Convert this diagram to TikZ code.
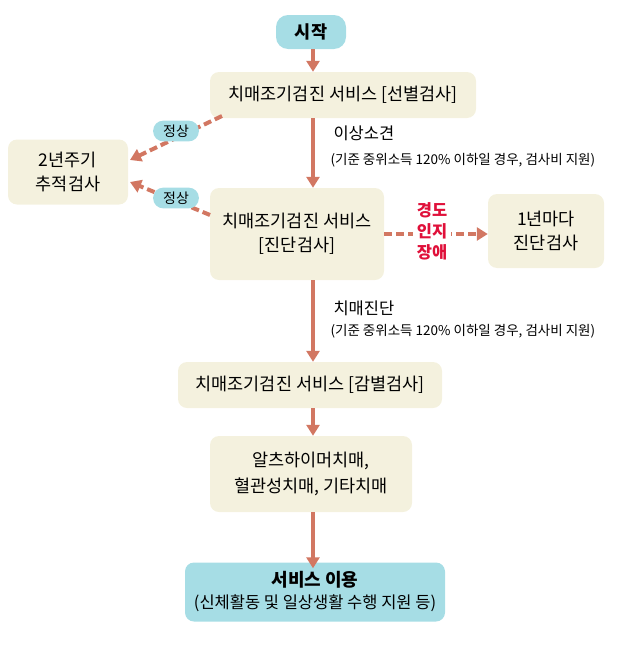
\documentclass[tikz,border=0pt]{standalone}
\usepackage{fontspec}
\setmainfont{Noto Sans CJK KR}
\usetikzlibrary{arrows.meta}
\definecolor{beige}{HTML}{F4F1DE}
\definecolor{cyanb}{HTML}{A6DDE5}
\definecolor{arr}{HTML}{D27762}
\definecolor{redt}{HTML}{E0103A}
\begin{document}
\begin{tikzpicture}[x=1pt,y=-1pt,
  box/.style={fill=beige,rounded corners=9pt,align=center,font=\fontsize{17.5}{24}\selectfont,inner sep=0pt},
  cbox/.style={box,fill=cyanb},
  pill/.style={fill=cyanb,rounded corners=10pt,font=\fontsize{14}{16}\selectfont,inner xsep=10pt,inner ysep=4pt},
  conn/.style={draw=arr,line width=4pt,-{Triangle[length=11pt,width=13pt]}},
  dconn/.style={conn,dash pattern=on 8pt off 4pt},
  lab/.style={font=\fontsize{16.5}{20}\selectfont,anchor=west,align=left}]
\useasboundingbox (0,0) rectangle (622,645);
\node[cbox,minimum width=70pt,minimum height=34pt,rounded corners=12pt,font=\fontsize{17.5}{20}\selectfont\bfseries] (start) at (311,32) {시작};
\node[box,minimum width=266pt,minimum height=46pt] (s1) at (343,95) {치매조기검진 서비스 [선별검사]};
\node[box,minimum width=120pt,minimum height=65pt] (s2) at (68,172) {2년주기\\추적검사};
\node[box,minimum width=174pt,minimum height=92pt] (s3) at (297,234) {치매조기검진 서비스\\{[}진단검사]};
\node[box,minimum width=116pt,minimum height=74pt] (s4) at (546,231) {1년마다\\진단검사};
\node[box,minimum width=264pt,minimum height=46pt] (s5) at (310,385) {치매조기검진 서비스 [감별검사]};
\node[box,minimum width=202pt,minimum height=76pt,font=\fontsize{17.5}{26}\selectfont] (s6) at (311,474) {알츠하이머치매,\\혈관성치매, 기타치매};
\node[cbox,minimum width=260pt,minimum height=59pt,font=\fontsize{16.5}{22}\selectfont] (s7) at (315,592) {\textbf{\fontsize{18}{22}\selectfont 서비스 이용}\\(신체활동 및 일상생활 수행 지원 등)};
\coordinate (a1) at (313,49);
\draw[conn] (start.south -| a1) -- (s1.north -| a1);
\draw[conn] (s1.south -| a1) -- (s3.north -| a1);
\draw[conn] (s3.south -| a1) -- (s5.north -| a1);
\draw[conn] (s5.south -| a1) -- (s6.north -| a1);
\draw[conn] (s6.south -| a1) -- ([yshift=-6pt]s7.north -| a1);
\coordinate (d1) at (222,116); \coordinate (e1) at (130,160);
\draw[dconn] (d1) -- (e1);
\coordinate (d2) at (210,215); \coordinate (e2) at (130,182);
\draw[dconn] (d2) -- (e2);
\draw[dconn] (s3.east) -- (s4.west |- s3.east);
\node[pill] (p1) at (176,131) {정상};
\node[pill] (p2) at (176,198) {정상};
\node[font=\fontsize{16.5}{21}\selectfont\bfseries,text=redt,align=center,fill=white,inner xsep=4pt,inner ysep=0pt] (r) at (432,231) {경도\\인지\\장애};
\node[lab] (l1) at (330,133) {이상소견};
\node[lab,font=\fontsize{13.5}{16}\selectfont] (l1b) at (327,160) {(기준 중위소득 120\% 이하일 경우, 검사비 지원)};
\node[lab] (l2) at (330,308) {치매진단};
\node[lab,font=\fontsize{13.5}{16}\selectfont] (l2b) at (327,331) {(기준 중위소득 120\% 이하일 경우, 검사비 지원)};
\end{tikzpicture}
\end{document}
